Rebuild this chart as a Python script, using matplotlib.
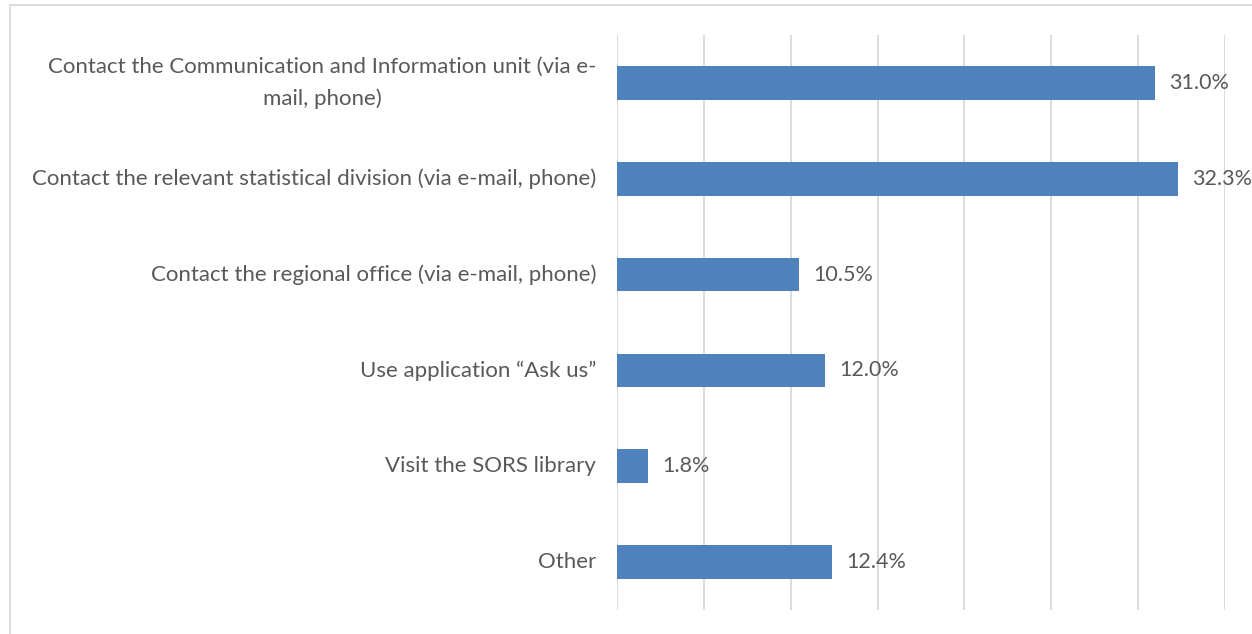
import matplotlib.pyplot as plt
from matplotlib.patches import Rectangle

categories = [
    "Contact the Communication and Information unit (via e-\nmail, phone)",
    "Contact the relevant statistical division (via e-mail, phone)",
    "Contact the regional office (via e-mail, phone)",
    "Use application \u201cAsk us\u201d",
    "Visit the SORS library",
    "Other",
]
shares = [31.0, 32.3, 10.5, 12.0, 1.8, 12.4]
grid_ticks = [0, 5, 10, 15, 20, 25, 30, 35]

plt.rcParams['font.family'] = ['Lato', 'DejaVu Sans']
text_col = '#595959'

fig = plt.figure(figsize=(12.52, 6.34), dpi=100)
ax = fig.add_axes([0.4928, 0.0379, 0.4856, 0.9069])

y = range(len(categories))
ax.barh(y, shares, height=0.35, color='#4f81bd', zorder=3)

for yi, v in zip(y, shares):
    ax.annotate(f"{v:.1f}%", (v, yi), xytext=(10, 0), textcoords='offset points',
                va='center', ha='left', fontsize=15.5, color=text_col)

ax.set_xlim(0, 35)
ax.set_ylim(len(categories) - 0.5, -0.5)
ax.set_xticks(grid_ticks)
ax.set_xticklabels([])
ax.set_yticks(list(y))
ax.set_yticklabels(categories, fontsize=16, color=text_col, va='center',
                   multialignment='center', linespacing=1.65)
ax.tick_params(axis='both', length=0)
ax.tick_params(axis='y', pad=15)
ax.xaxis.grid(True, color='#d9d9d9', lw=1.3, zorder=0)
for s in ax.spines.values():
    s.set_visible(False)

# outer chart frame
fig.patches.append(Rectangle((10 / 1252, -0.01), 1.0, 1 - 5 / 634 + 0.01,
                             transform=fig.transFigure, fill=False,
                             edgecolor='#d9d9d9', lw=1.3))

fig.savefig('out.png', dpi=100)
